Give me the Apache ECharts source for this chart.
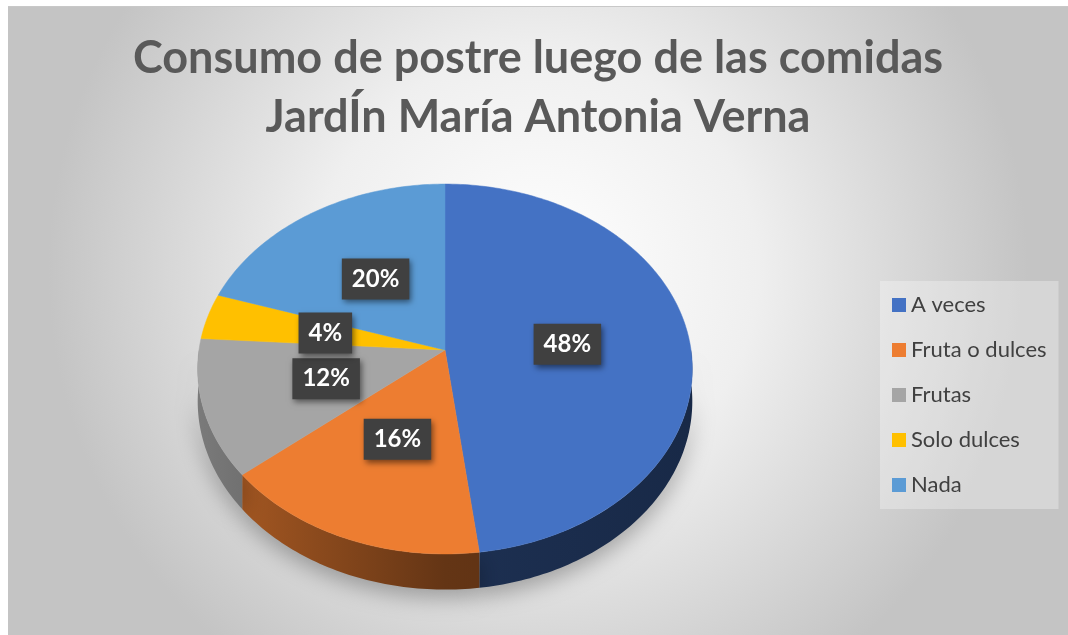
<!DOCTYPE html>
<html>
<head>
<meta charset="utf-8">
<script src="https://cdn.jsdelivr.net/npm/echarts@6/dist/echarts.min.js"></script>
<style>
  html, body { margin: 0; padding: 0; background: #fff; }
  #chart { position: absolute; left: 8px; top: 6px; width: 1060px; height: 629px; border-top: 1px solid #c8c8c8; box-sizing: border-box; }
</style>
</head>
<body>
<div id="chart"></div>
<script>
const categories = ['A veces', 'Fruta o dulces', 'Frutas', 'Solo dulces', 'Nada'];
const counts = [12, 4, 3, 1, 5];
const colors = ['#4472c4', '#ed7d31', '#a5a5a5', '#ffc000', '#5b9bd5'];
const titleLines = ['Consumo de postre luego de las comidas', 'JardÍn María Antonia Verna'];

const FONT = 'Lato, "Open Sans", sans-serif';
const total = counts.reduce((a, b) => a + b, 0);

// pie layout (tilted disc with a bit of perspective)
const cx = 437, cy = 343, rx = 246, ry = 183, persp = 0.1027, depth = 32;

function project(theta, r, dy) {
  const u = Math.sin(theta) * r, v = -Math.cos(theta) * r;
  const k = 1 / (1 - persp * v);
  return [cx + rx * u * k, cy + ry * v * k + (dy || 0) * k];
}

function arc(a0, a1, r, dy) {
  const n = Math.max(2, Math.ceil((a1 - a0) / (Math.PI / 180)));
  const pts = [];
  for (let j = 0; j <= n; j++) pts.push(project(a0 + (a1 - a0) * j / n, r, dy));
  return pts;
}

function shade(hex, f) {
  const n = parseInt(hex.slice(1), 16);
  const c = [(n >> 16) & 255, (n >> 8) & 255, n & 255].map(x => Math.round(x * f));
  return 'rgb(' + c.join(',') + ')';
}

function startOf(i) {
  let s = 0;
  for (let j = 0; j < i; j++) s += counts[j];
  return s / total * Math.PI * 2;
}

function makeRender(i) {
  return function (params, api) {
    const a0 = startOf(i);
    const a1 = a0 + api.value(0) / total * Math.PI * 2;
    const children = [];

    // outer wall, only the front half is visible
    const s = Math.max(a0, Math.PI / 2), e = Math.min(a1, Math.PI * 1.5);
    if (e > s) {
      const top = arc(s, e, 1, 0);
      const bottom = arc(s, e, 1, depth).reverse();
      children.push({
        type: 'polygon', z2: 0,
        shape: { points: top.concat(bottom) },
        style: {
          fill: new echarts.graphic.LinearGradient(cx - rx, 0, cx + rx, 0, [
            { offset: 0, color: shade(colors[i], 0.74) },
            { offset: 0.5, color: shade(colors[i], 0.42) },
            { offset: 1, color: shade(colors[i], 0.36) },
          ], true),
          shadowBlur: 22, shadowColor: 'rgba(0,0,0,0.3)', shadowOffsetY: 8,
        },
      });
    }

    // top face
    children.push({
      type: 'polygon', z2: 10,
      shape: { points: [project(0, 0)].concat(arc(a0, a1, 1, 0)) },
      style: { fill: colors[i], stroke: colors[i], lineWidth: 0.5 },
    });

    // data label
    const p = project((a0 + a1) / 2, 0.5);
    children.push({
      type: 'text', z2: 20, x: p[0], y: p[1],
      style: {
        text: Math.round(api.value(0) / total * 100) + '%',
        fill: '#fff', font: 'bold 24px ' + FONT,
        align: 'center', verticalAlign: 'middle',
        backgroundColor: '#404040', padding: [9, 10, 8, 10],
        shadowBlur: 6, shadowColor: 'rgba(0,0,0,0.5)', shadowOffsetX: 2, shadowOffsetY: 3,
      },
    });
    return { type: 'group', children };
  };
}

const chart = echarts.init(document.getElementById('chart'));
chart.setOption({
  backgroundColor: new echarts.graphic.RadialGradient(0.5, 0.42, 0.78, [
    { offset: 0, color: '#ffffff' },
    { offset: 0.45, color: '#efefef' },
    { offset: 1, color: '#c4c4c4' },
  ]),
  title: {
    text: titleLines.join('\n'),
    left: 'center', top: 17,
    textStyle: { fontFamily: FONT, fontSize: 45, fontWeight: 'bold', color: '#595959', lineHeight: 59 },
  },
  legend: {
    orient: 'vertical', left: 872, top: 274,
    padding: [13, 12, 13, 12],
    backgroundColor: 'rgba(255,255,255,0.3)',
    itemWidth: 14, itemHeight: 14, itemGap: 23,
    icon: 'rect',
    data: categories,
    textStyle: { fontFamily: FONT, fontSize: 22, color: '#404040' },
  },
  series: categories.map((name, i) => ({
    type: 'custom', name,
    coordinateSystem: 'none',
    itemStyle: { color: colors[i] },
    renderItem: makeRender(i),
    data: [[counts[i]]],
    silent: true,
    animation: false,
  })),
});
</script>
</body>
</html>
